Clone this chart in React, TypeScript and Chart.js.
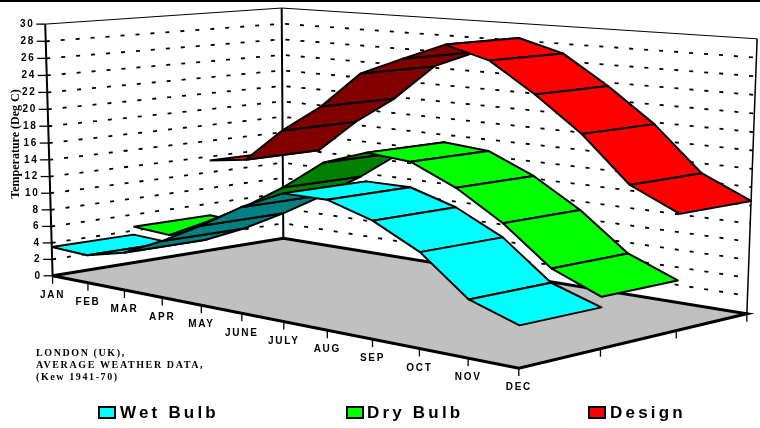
import React, { useEffect, useRef } from "react";
import { Chart, registerables } from "chart.js";

Chart.register(...registerables);

// ---------- data ----------
const months = ["JAN", "FEB", "MAR", "APR", "MAY", "JUNE", "JULY", "AUG", "SEP", "OCT", "NOV", "DEC"];
const wetBulb = [3.5, 3.3, 4.4, 6.5, 9, 11.8, 14, 14, 12.5, 10, 6, 4.3];
const dryBulb = [4.5, 4.2, 6.5, 9, 12, 15.5, 17.2, 16.8, 14.6, 11.5, 7.5, 5.4];
const design = [11.5, 12.2, 16.4, 19.8, 24.2, 26.3, 28.3, 26.9, 23.6, 19.8, 14.9, 12.5];
const tempTicks = [0, 2, 4, 6, 8, 10, 12, 14, 16, 18, 20, 22, 24, 26, 28, 30];
const noteLines = ["LONDON (UK),", "AVERAGE WEATHER DATA,", "(Kew 1941-70)"];
const axisTitle = "Temperature (Deg C)";

const seriesList = [
  { name: "Design", values: design, light: "#ff0000", dark: "#800000" },
  { name: "Dry Bulb", values: dryBulb, light: "#00ff00", dark: "#008000" },
  { name: "Wet Bulb", values: wetBulb, light: "#00ffff", dark: "#008080" },
];
const legendItems = [
  { name: "Wet Bulb", color: "#00ffff", box: 99, text: 120 },
  { name: "Dry Bulb", color: "#00ff00", box: 347, text: 367 },
  { name: "Design", color: "#ff0000", box: 589, text: 610 },
];

// ---------- camera calibration: (month 0..1, depth 0..1, height 0..1) -> screen ----------
const tickX = [53, 88, 124, 162, 201, 242, 284, 327, 373, 419, 468, 519];
const calib: number[][] = [
  [0, 0, 0, 53, 276],
  [1, 0, 0, 519, 368],
  [0, 1, 0, 283, 238],
  [1, 1, 0, 747, 314],
  [0, 0, 1, 45, 24],
  [0, 1, 1, 282, 8],
  [1, 1, 1, 757, 39],
  ...tickX.map((x, i) => [i / 11, 0, 0, x, 276 + ((x - 53) * 92) / 466]),
];

function solveCamera(): number[] {
  const n = 11;
  const A = Array.from({ length: n }, () => new Array(n + 1).fill(0));
  const add = (r: number[], b: number) => {
    for (let i = 0; i < n; i++) {
      for (let j = 0; j < n; j++) A[i][j] += r[i] * r[j];
      A[i][n] += r[i] * b;
    }
  };
  for (const [u, v, w, x, y] of calib) {
    add([u, v, w, 1, 0, 0, 0, 0, -x * u, -x * v, -x * w], x);
    add([0, 0, 0, 0, u, v, w, 1, -y * u, -y * v, -y * w], y);
  }
  for (let c = 0; c < n; c++) {
    let p = c;
    for (let r = c + 1; r < n; r++) if (Math.abs(A[r][c]) > Math.abs(A[p][c])) p = r;
    [A[c], A[p]] = [A[p], A[c]];
    for (let r = 0; r < n; r++) {
      if (r === c) continue;
      const f = A[r][c] / A[c][c];
      for (let k = c; k <= n; k++) A[r][k] -= f * A[c][k];
    }
  }
  return A.map((row, i) => row[n] / row[i]);
}
const cam = solveCamera();
const project = (u: number, v: number, w: number) => {
  const d = cam[8] * u + cam[9] * v + cam[10] * w + 1;
  return {
    x: (cam[0] * u + cam[1] * v + cam[2] * w + cam[3]) / d,
    y: (cam[4] * u + cam[5] * v + cam[6] * w + cam[7]) / d,
  };
};
const pt = (m: number, depth: number, t: number) => project(m / 11, depth, t / 30);

const area = (p: { x: number; y: number }[]) => {
  let s = 0;
  for (let i = 0; i < p.length - 1; i++) s += p[i].x * p[i + 1].y - p[i + 1].x * p[i].y;
  return s;
};

function buildDatasets() {
  const painted: any[] = [];
  const line = (label: string, data: any[], width: number, dash: number[] = []) =>
    painted.push({
      label, data, showLine: true, borderColor: "#000", borderWidth: width, borderDash: dash,
      pointRadius: 0, fill: false, tension: 0, clip: false,
    });
  // floor
  const floor = [pt(0, 0, 0), pt(11, 0, 0), pt(11, 1, 0), pt(0, 1, 0), pt(0, 0, 0)];
  painted.push({
    label: "Floor", data: floor, showLine: true, borderColor: "#000", borderWidth: 3,
    backgroundColor: "#c0c0c0", fill: "shape", pointRadius: 0, tension: 0, clip: false,
  });
  // wall grid
  for (const t of tempTicks) {
    if (t === 0) continue;
    const d = [pt(0, 0, t), pt(0, 1, t), pt(11, 1, t)];
    if (t === 30) line("Top", d, 1);
    else line("Grid " + t, d, 1.8, [4, 11]);
  }
  // wall verticals
  line("Left axis", [pt(0, 0, 0), pt(0, 0, 30)], 2);
  line("Back corner", [pt(0, 1, 0), pt(0, 1, 30)], 2);
  line("Right edge", [pt(11, 1, 0), pt(11, 1, 30)], 1.5);
  // ribbons: back to front, JAN to DEC
  seriesList.forEach((s, si) => {
    const v0 = (2 - si) / 3;
    const v1 = (3 - si) / 3;
    for (let m = 0; m < 11; m++) {
      const q = [
        pt(m, v0, s.values[m]),
        pt(m + 1, v0, s.values[m + 1]),
        pt(m + 1, v1, s.values[m + 1]),
        pt(m, v1, s.values[m]),
        pt(m, v0, s.values[m]),
      ];
      painted.push({
        label: s.name + " " + months[m], data: q, showLine: true, borderColor: "#000", borderWidth: 2,
        backgroundColor: area(q) > 0 ? s.dark : s.light, fill: "shape", pointRadius: 0, tension: 0,
        borderJoinStyle: "round", clip: false,
      });
    }
  });
  return painted.reverse(); // Chart.js paints the last dataset first
}

const textPlugin = {
  id: "labels3d",
  afterDatasetsDraw(chart: any) {
    const ctx = chart.ctx as CanvasRenderingContext2D & { letterSpacing: string };
    const x = chart.scales.x;
    const y = chart.scales.y;
    const P = (p: { x: number; y: number }) => ({ x: x.getPixelForValue(p.x), y: y.getPixelForValue(p.y) });
    ctx.save();
    // top band
    ctx.fillStyle = "#000";
    ctx.fillRect(0, 0, chart.width, 2);
    // ticks
    ctx.strokeStyle = "#000";
    ctx.lineWidth = 1.3;
    const seg = (a: { x: number; y: number }, dx: number, dy: number) => {
      ctx.beginPath();
      ctx.moveTo(a.x, a.y);
      ctx.lineTo(a.x + dx, a.y + dy);
      ctx.stroke();
    };
    tempTicks.forEach((t) => seg(P(pt(0, 0, t)), -9, 0));
    months.forEach((_, m) => seg(P(pt(m, 0, 0)), 0, 8));
    [1 / 3, 2 / 3, 1].forEach((v) => seg(P(project(1, v, 0)), 0, 8));

    ctx.fillStyle = "#000";
    ctx.textBaseline = "middle";
    ctx.font = "bold 10px 'Liberation Sans'";
    ctx.letterSpacing = "1.5px";
    ctx.textAlign = "right";
    tempTicks.forEach((t) => {
      const p = P(pt(0, 0, t));
      ctx.fillText(String(t), p.x - 11, p.y);
    });
    ctx.letterSpacing = "1.7px";
    ctx.textAlign = "center";
    months.forEach((name, m) => {
      const p = P(pt(m, 0, 0));
      ctx.fillText(name, p.x, p.y + 19.5);
    });
    // note
    ctx.textAlign = "left";
    ctx.textBaseline = "alphabetic";
    ctx.font = "bold 10px 'Liberation Serif'";
    ctx.letterSpacing = "1.6px";
    noteLines.forEach((l, i) => ctx.fillText(l, 36, 356 + i * 12));
    // legend
    ctx.font = "bold 17px 'Liberation Sans'";
    ctx.letterSpacing = "3.2px";
    legendItems.forEach((it) => {
      ctx.fillStyle = it.color;
      ctx.fillRect(it.box, 407, 16, 11);
      ctx.strokeStyle = "#000";
      ctx.lineWidth = 2;
      ctx.strokeRect(it.box, 407, 16, 11);
      ctx.fillStyle = "#000";
      ctx.fillText(it.name, it.text, 418);
    });
    // axis title
    ctx.letterSpacing = "0px";
    ctx.font = "bold 12px 'Liberation Serif'";
    ctx.textAlign = "center";
    ctx.translate(19, 144);
    ctx.rotate(-Math.PI / 2);
    ctx.fillText(axisTitle, 0, 0);
    ctx.restore();
  },
};

export default function App() {
  const ref = useRef<HTMLCanvasElement>(null);
  useEffect(() => {
    if (!ref.current) return;
    const chart = new Chart(ref.current, {
      type: "scatter",
      data: { datasets: buildDatasets() },
      options: {
        animation: false,
        responsive: false,
        layout: { padding: 0 },
        plugins: { legend: { display: false }, title: { display: false }, tooltip: { enabled: false } },
        scales: {
          x: { type: "linear", min: 0, max: 760, display: false },
          y: { type: "linear", min: 0, max: 428, reverse: true, display: false },
        },
      },
      plugins: [textPlugin],
    } as any);
    return () => chart.destroy();
  }, []);
  return (
    <div style={{ position: "fixed", left: 0, top: 0, width: 760, height: 428, background: "#fff" }}>
      <canvas ref={ref} width={760} height={428} style={{ display: "block" }} />
    </div>
  );
}
